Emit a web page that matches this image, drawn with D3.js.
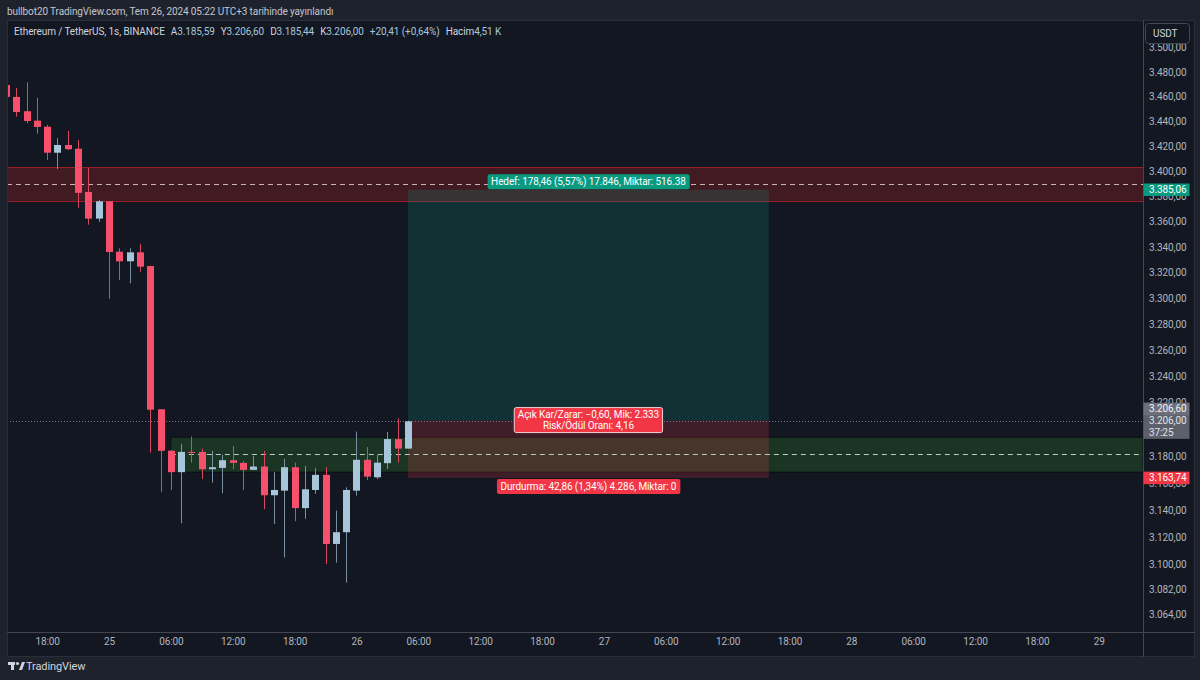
<!DOCTYPE html>
<html>
<head>
<meta charset="utf-8">
<script src="https://cdn.jsdelivr.net/npm/d3@7"></script>
<style>
body { margin: 0; background: #1e222d; }
svg { display: block; }
</style>
</head>
<body>
<svg id="chart" width="1200" height="680"></svg>
<script>
// hourly candles, first one is 24 Jul 14:00 (UTC+3 shown as plain UTC here)
var firstCandle = '2024-07-24T14:00:00Z';
var opens  = [3469.3, 3459.6, 3448.0, 3440.4, 3435.5, 3414.6, 3420.8, 3417.8, 3383.3, 3362.2,
              3375.9, 3336.2, 3328.7, 3335.7, 3325.0, 3215.1, 3184.0, 3168.0, 3183.1, 3183.1,
              3170.2, 3171.2, 3176.9, 3174.9, 3169.7, 3172.2, 3150.9, 3154.3, 3171.7, 3141.4,
              3154.8, 3166.0, 3115.1, 3123.7, 3154.3, 3177.2, 3164.2, 3174.7, 3192.7, 3185.59];
var highs  = [3470.5, 3466.9, 3471.5, 3459.0, 3436.9, 3426.2, 3432.1, 3424.8, 3402.2, 3376.9,
              3376.0, 3338.9, 3338.9, 3342.3, 3325.2, 3215.3, 3184.6, 3189.1, 3194.6, 3185.6,
              3183.9, 3180.9, 3187.6, 3176.4, 3180.1, 3183.9, 3168.2, 3177.9, 3175.1, 3172.7,
              3171.0, 3171.7, 3139.6, 3156.8, 3198.3, 3186.7, 3180.9, 3198.0, 3208.3, 3206.60];
var lows   = [3457.9, 3443.6, 3438.3, 3429.9, 3408.8, 3401.6, 3416.8, 3370.8, 3357.4, 3359.6,
              3299.6, 3314.1, 3311.6, 3320.6, 3182.6, 3153.1, 3154.8, 3130.3, 3175.1, 3162.9,
              3160.2, 3152.4, 3170.2, 3154.8, 3169.5, 3140.6, 3129.8, 3105.2, 3131.8, 3133.5,
              3151.9, 3100.5, 3101.5, 3086.9, 3150.6, 3162.2, 3162.9, 3170.4, 3175.1, 3185.44];
var closes = [3459.6, 3447.4, 3440.1, 3435.3, 3414.6, 3420.8, 3417.4, 3382.6, 3362.2, 3375.9,
              3336.0, 3328.7, 3335.7, 3324.5, 3214.8, 3183.9, 3168.0, 3183.1, 3182.6, 3170.2,
              3171.7, 3176.9, 3174.9, 3169.7, 3172.2, 3150.9, 3154.8, 3171.7, 3141.4, 3155.3,
              3166.0, 3115.1, 3123.7, 3154.8, 3177.2, 3164.7, 3175.1, 3192.7, 3185.59, 3206.00];
var volumeText = '4,51 K';

// 3.200 sits fully under the last price tag in the original, so it is left out
var priceTicks = [3500, 3480, 3460, 3440, 3420, 3400, 3380, 3360, 3340, 3320, 3300, 3280,
                  3260, 3240, 3220, 3180, 3160, 3140, 3120, 3100, 3082, 3064];

// drawn zones: [top, middle, bottom]
var redZone = [3403.0, 3389.6, 3376.2];
var greenZone = [3194.1, 3181.4, 3168.0];
var greenZoneStart = '2024-07-25T06:00:00Z';

// long position tool
var entryPrice = 3206.60, targetPrice = 3385.06, stopPrice = 3163.74;
var toolStart = '2024-07-26T05:00:00Z', toolEnd = '2024-07-27T16:00:00Z';
var targetLabel = 'Hedef: 178,46 (5,57%) 17.846, Miktar: 516.38';
var midLabel = ['Açık Kar/Zarar: −0,60, Mik: 2.333', 'Risk/Ödül Oranı: 4,16'];
var stopLabel = 'Durdurma: 42,86 (1,34%) 4.286, Miktar: 0';
var countdown = '37:25';

var FONT = 'Roboto, "Liberation Sans", sans-serif';
var FS = '10px', LS = '-0.1px';
var UP = '#a7c6da', DOWN = '#f74f6c';

var loc = d3.formatLocale({decimal: ',', thousands: '.', grouping: [3], currency: ['', '']});
var fmt = loc.format(',.2f');

var svg = d3.select('#chart');
var L = 7, R = 1143, T = 20, B = 632;

var x = d3.scaleUtc()
    .domain([new Date('2024-07-24T14:06:24Z'), new Date('2024-07-29T04:17:24Z')])
    .range([L, R]);
var y = d3.scaleLog().domain([3051.4, 3522.6]).range([B, T]);

var candles = opens.map(function(o, i) {
    return {t: d3.utcHour.offset(new Date(firstCandle), i), o: o, h: highs[i], l: lows[i], c: closes[i]};
});

function txt(sel, size) {
    return sel.style('font-family', FONT).style('font-size', size || FS).style('letter-spacing', LS);
}

// panel
svg.append('rect').attr('x', 0).attr('y', 0).attr('width', 1200).attr('height', 680).attr('fill', '#1e222d');
svg.append('rect').attr('x', L + 0.5).attr('y', T + 0.5).attr('width', 1195 - L - 1).attr('height', 657 - T - 1)
    .attr('fill', '#131722').attr('stroke', '#2a2e39');

txt(svg.append('text').attr('x', 7).attr('y', 15).text('bullbot20 TradingView.com, Tem 26, 2024 05:22 UTC+3 tarihinde yayınlandı'))
    .attr('fill', '#c3c6ce');

var plot = svg.append('g');
svg.append('clipPath').attr('id', 'clip').append('rect').attr('x', L + 1).attr('y', T + 1).attr('width', R - L - 1).attr('height', B - T - 1);
plot.attr('clip-path', 'url(#clip)');

// red zone
plot.append('rect').attr('x', L).attr('width', R - L)
    .attr('y', y(redZone[0])).attr('height', y(redZone[2]) - y(redZone[0]))
    .attr('fill', '#421a21');
[redZone[0], redZone[2]].forEach(function(p) {
    plot.append('line').attr('x1', L).attr('x2', R).attr('y1', Math.round(y(p)) + 0.5).attr('y2', Math.round(y(p)) + 0.5)
        .attr('stroke', '#9b1f2a');
});

// green zone
plot.append('rect').attr('x', x(new Date(greenZoneStart))).attr('width', R - x(new Date(greenZoneStart)))
    .attr('y', y(greenZone[0])).attr('height', y(greenZone[2]) - y(greenZone[0]))
    .attr('fill', '#1b3525').attr('stroke', '#0b0e13');

// position tool
var tx0 = x(new Date(toolStart)), tx1 = x(new Date(toolEnd));
plot.append('rect').attr('x', tx0).attr('width', tx1 - tx0)
    .attr('y', y(targetPrice)).attr('height', y(entryPrice) - y(targetPrice))
    .attr('fill', 'rgba(8,153,129,0.2)');
plot.append('rect').attr('x', tx0).attr('width', tx1 - tx0)
    .attr('y', y(entryPrice)).attr('height', y(stopPrice) - y(entryPrice))
    .attr('fill', 'rgba(242,54,69,0.2)');

// dashed middle lines of the zones
plot.append('line').attr('x1', L).attr('x2', R).attr('y1', Math.round(y(redZone[1])) + 0.5).attr('y2', Math.round(y(redZone[1])) + 0.5)
    .attr('stroke', '#c9b4b8').attr('stroke-dasharray', '5,4');
plot.append('line').attr('x1', x(new Date(greenZoneStart))).attr('x2', R)
    .attr('y1', Math.round(y(greenZone[1])) + 0.5).attr('y2', Math.round(y(greenZone[1])) + 0.5)
    .attr('stroke', '#c2c9c4').attr('stroke-dasharray', '5,4');

// last price line
var last = candles[candles.length - 1];
plot.append('line').attr('x1', L).attr('x2', R).attr('y1', Math.round(y(last.c)) + 0.5).attr('y2', Math.round(y(last.c)) + 0.5)
    .attr('stroke', '#787b86').attr('stroke-dasharray', '1,2');

// candles
var cg = plot.selectAll('.candle').data(candles).enter().append('g').attr('class', 'candle');
cg.append('line')
    .attr('x1', function(d) { return Math.round(x(d.t)) + 0.5; })
    .attr('x2', function(d) { return Math.round(x(d.t)) + 0.5; })
    .attr('y1', function(d) { return y(d.h); })
    .attr('y2', function(d) { return y(d.l); })
    .attr('stroke', function(d) { return d.c >= d.o ? '#7890a2' : '#d84862'; });
cg.append('rect')
    .attr('x', function(d) { return Math.round(x(d.t)) - 3; })
    .attr('width', 7)
    .attr('y', function(d) { return y(Math.max(d.o, d.c)); })
    .attr('height', function(d) { return Math.max(1, Math.abs(y(d.o) - y(d.c))); })
    .attr('fill', function(d) { return d.c >= d.o ? UP : DOWN; });

// tool labels
var tcx = (tx0 + tx1) / 2;
function labelBox(lines, cy, fill, outline) {
    var g = svg.append('g');
    var t = txt(g.append('text').attr('text-anchor', 'middle')).attr('fill', '#fff');
    lines.forEach(function(s, i) {
        t.append('tspan').attr('x', tcx).attr('y', cy + 3.5 - (lines.length - 1) * 5.5 + i * 11).text(s);
    });
    var bb = t.node().getBBox();
    g.insert('rect', 'text').attr('x', bb.x - 3.5).attr('y', cy - bb.height / 2 - 1.5)
        .attr('width', bb.width + 7).attr('height', bb.height + 3).attr('rx', 2)
        .attr('fill', fill).attr('stroke', outline || 'none');
}
labelBox([targetLabel], y(targetPrice) - 8, '#089981');
labelBox(midLabel, y(entryPrice) - 0.5, '#f23645', '#f0d0d3');
labelBox([stopLabel], y(stopPrice) + 8.5, '#f23645');

// axes frame
svg.append('line').attr('x1', R + 0.5).attr('x2', R + 0.5).attr('y1', T).attr('y2', 657).attr('stroke', '#434651');
svg.append('line').attr('x1', L).attr('x2', 1195).attr('y1', B + 0.5).attr('y2', B + 0.5).attr('stroke', '#434651');

var yAxis = svg.append('g').attr('transform', 'translate(' + (R + 3) + ',0)')
    .call(d3.axisRight(y).tickValues(priceTicks).tickFormat(fmt).tickSize(0).tickPadding(3));
yAxis.select('.domain').remove();
txt(yAxis.selectAll('text')).attr('fill', '#b2b5be');

var xAxis = svg.append('g').attr('transform', 'translate(0,' + B + ')')
    .call(d3.axisBottom(x).ticks(d3.utcHour.every(6)).tickSize(0).tickPadding(6)
        .tickFormat(function(d) { return d.getUTCHours() === 0 ? d3.utcFormat('%-d')(d) : d3.utcFormat('%H:%M')(d); }));
xAxis.select('.domain').remove();
txt(xAxis.selectAll('text')).attr('fill', '#b2b5be');

// price axis labels
function axisTag(lines, cy, fill, color) {
    var h = lines.length * 11.5 + 1;
    svg.append('rect').attr('x', R + 0.5).attr('y', cy - h / 2).attr('width', 46).attr('height', h)
        .attr('fill', fill);
    lines.forEach(function(s, i) {
        txt(svg.append('text').attr('x', R + 6).attr('y', cy - h / 2 + 9.5 + i * 11.5).text(s))
            .attr('fill', color || '#fff');
    });
}
axisTag([fmt(targetPrice)], y(targetPrice), '#089981');
axisTag([fmt(last.c), countdown], y(last.c) + 5.5, '#5d606b', '#e0e3eb');
axisTag([fmt(entryPrice)], y(last.c) - 12.5, '#6c6f7a', '#f0f3fa');
axisTag([fmt(stopPrice)], y(stopPrice), '#f23645');

// currency button
svg.append('rect').attr('x', 1145.5).attr('y', 23.5).attr('width', 44).attr('height', 20).attr('rx', 3)
    .attr('fill', '#131722').attr('stroke', '#434651');
txt(svg.append('text').attr('x', 1153).attr('y', 37).text('USDT')).attr('fill', '#d1d4dc');

// legend
var prev = candles[candles.length - 2];
var chg = last.c - prev.c;
var legend = txt(svg.append('text').attr('x', 14).attr('y', 35));
var parts = [
    ['Ethereum / TetherUS, 1s, BINANCE', '#d1d4dc', 0],
    ['A', '#d1d4dc', 6], [fmt(last.o), UP, 0],
    ['Y', '#d1d4dc', 6], [fmt(last.h), UP, 0],
    ['D', '#d1d4dc', 6], [fmt(last.l), UP, 0],
    ['K', '#d1d4dc', 6], [fmt(last.c), UP, 0],
    ['+' + fmt(chg) + ' (+' + fmt(chg / prev.c * 100) + '%)', UP, 6],
    ['Hacim', '#d1d4dc', 6], [volumeText, UP, 0]
];
parts.forEach(function(p) {
    legend.append('tspan').attr('dx', p[2]).attr('fill', p[1]).text(p[0]);
});

// footer logo
var logo = svg.append('g').attr('fill', '#d1d4dc');
logo.append('rect').attr('x', 8).attr('y', 662).attr('width', 7).attr('height', 3);
logo.append('rect').attr('x', 11).attr('y', 662).attr('width', 3).attr('height', 8);
logo.append('circle').attr('cx', 17.5).attr('cy', 663.5).attr('r', 1.6);
logo.append('path').attr('d', 'M19 670 L22 662 L25 662 L22 670 Z');
txt(svg.append('text').attr('x', 26).attr('y', 670).text('TradingView'), '11px').attr('fill', '#d1d4dc');
</script>
</body>
</html>
